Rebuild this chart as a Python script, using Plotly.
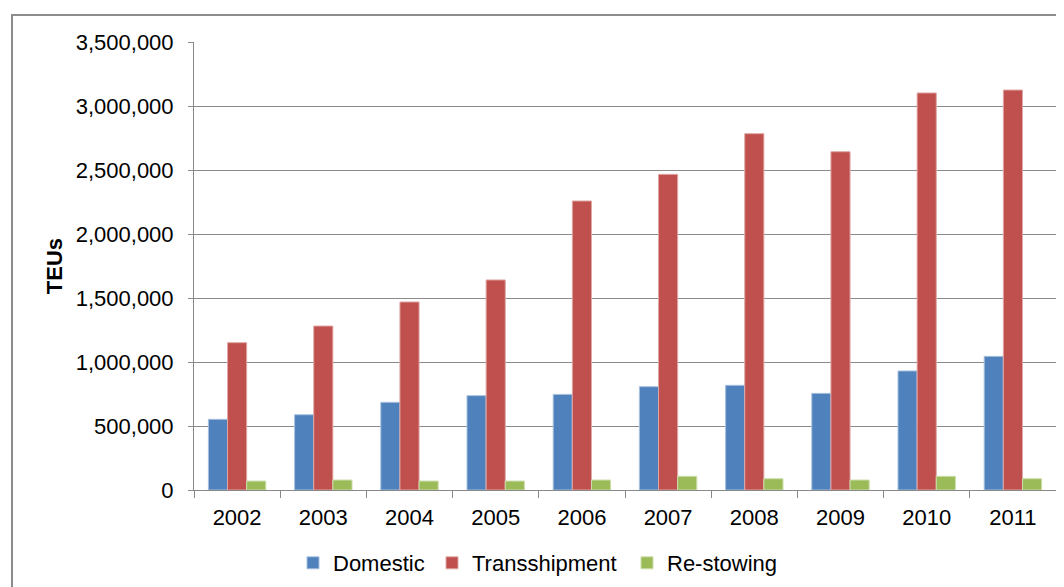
import plotly.graph_objects as go

years = ["2002", "2003", "2004", "2005", "2006", "2007", "2008", "2009", "2010", "2011"]
domestic = [552000, 588000, 685000, 737000, 747000, 807000, 818000, 755000, 930000, 1044000]
transshipment = [1151000, 1281000, 1469000, 1641000, 2258000, 2466000, 2784000, 2643000, 3102000, 3125000]
restowing = [70000, 78000, 70000, 70000, 78000, 107000, 88000, 78000, 107000, 88000]

series_names = ["Domestic", "Transshipment", "Re-stowing"]
series_colors = ["#4F81BD", "#C0504D", "#9BBB59"]
series_lines = ["#A7C0DE", "#DFA8A6", "#CDDDAC"]
legend_ids = ["legend", "legend2", "legend3"]

FONT = "Liberation Sans, Arial, sans-serif"

# page offset (body margin) compensation
OFF = 8

fig = go.Figure()
for name, vals, col, lc, lid in zip(series_names, [domestic, transshipment, restowing],
                                    series_colors, series_lines, legend_ids):
    fig.add_trace(go.Bar(x=years, y=vals, name=name, legend=lid,
                         marker=dict(color=col, line=dict(color=lc, width=1))))

W, H = 1064, 587
L = 194 - OFF
T = 42 - OFF
R = W - (1056 - OFF)
B = H - (490 - OFF)
pw, ph = W - L - R, H - T - B

legend_text_px = [333 - OFF, 472 - OFF, 667 - OFF]
legend_common = dict(orientation="h", xanchor="left", yanchor="middle",
                     y=(490 - 563) / ph, font=dict(size=22, family=FONT),
                     itemwidth=30, bgcolor="rgba(0,0,0,0)", borderwidth=0)

layout_legends = {}
for lid, tx in zip(legend_ids, legend_text_px):
    d = dict(legend_common)
    d["x"] = (tx - 40 - L) / pw
    layout_legends[lid] = d

fig.update_layout(
    width=W, height=H,
    margin=dict(l=L, r=R, t=T, b=B, pad=0, autoexpand=False),
    paper_bgcolor="white", plot_bgcolor="white",
    barmode="group", bargap=0.334, bargroupgap=0,
    font=dict(family=FONT, size=22, color="#000000"),
    showlegend=True,
    xaxis=dict(type="category", showline=True, linecolor="#888888", linewidth=1,
               ticks="outside", tickson="boundaries", ticklen=7, tickcolor="#888888",
               tickfont=dict(size=22, family=FONT), showgrid=False, automargin=False,
               ticklabelstandoff=8),
    yaxis=dict(range=[0, 3500000], dtick=500000, tickformat=",d",
               showline=True, linecolor="#888888", linewidth=1,
               ticks="outside", ticklen=5, tickcolor="#888888",
               showgrid=True, gridcolor="#8a8a8a", gridwidth=1,
               zeroline=False, automargin=False, ticklabelstandoff=10,
               tickfont=dict(size=22, family=FONT),
               title=dict(text="<b>TEUs</b>", font=dict(size=22, family=FONT), standoff=7)),
    shapes=[dict(type="rect", xref="paper", yref="paper",
                 x0=(12 - 194) / pw, x1=1.2, y0=-0.4, y1=1 + (42 - 15) / ph,
                 line=dict(color="#8c8c8c", width=2), fillcolor="rgba(0,0,0,0)", layer="below")],
    **layout_legends,
)

fig.write_html("out.html")
